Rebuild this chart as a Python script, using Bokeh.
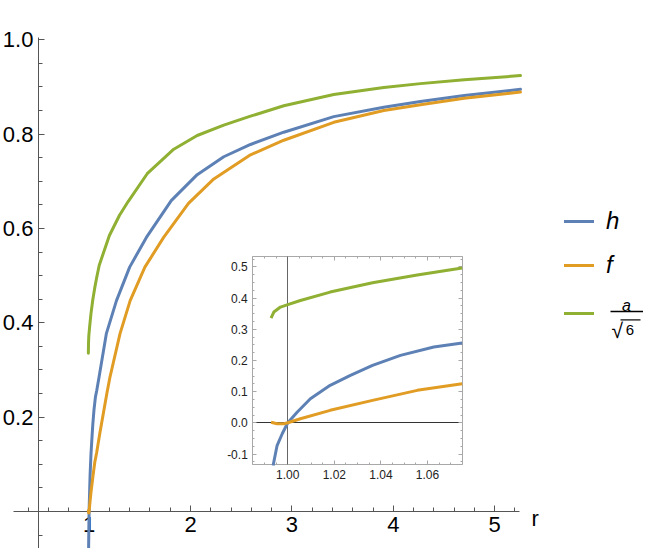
import numpy as np
from bokeh.plotting import figure
from bokeh.models import (Range1d, LinearAxis, FixedTicker, NumeralTickFormatter,
                          Legend, LegendItem, Label, BoxAnnotation)
from bokeh.core.properties import value
from bokeh.embed import file_html
from bokeh.resources import INLINE

# ---------------- data ----------------
h_r = [0.9937, 0.9954, 0.9976, 1.0, 1.004, 1.0097, 1.0182, 1.0269, 1.0364, 1.0484,
       1.0627, 1.0749, 1.10, 1.17, 1.27, 1.40, 1.565, 1.81, 2.066, 2.328, 2.592,
       2.92, 3.413, 3.906, 4.268, 4.7, 5.254]
h_y = [-0.137, -0.073, -0.035, 0.0, 0.034, 0.077, 0.120, 0.152, 0.184, 0.216,
       0.243, 0.256, 0.287, 0.377, 0.447, 0.518, 0.581, 0.659, 0.714, 0.752, 0.778,
       0.804, 0.837, 0.857, 0.869, 0.882, 0.895]

f_r = [0.9928, 0.9954, 0.9983, 1.0, 1.0054, 1.0182, 1.0364, 1.0556, 1.0749, 1.105,
       1.175, 1.205, 1.305, 1.405, 1.55, 1.735, 1.98, 2.23, 2.592, 2.92, 3.413,
       3.906, 4.268, 4.7, 5.254]
f_y = [0.002, -0.003, -0.003, 0.0, 0.013, 0.040, 0.072, 0.104, 0.125, 0.165,
       0.250, 0.284, 0.377, 0.447, 0.518, 0.581, 0.653, 0.705, 0.756, 0.787, 0.825,
       0.850, 0.862, 0.876, 0.889]

a_r = [0.9928, 0.9940, 0.99685, 1.0, 1.0054, 1.0182, 1.0364, 1.0556, 1.0749, 1.10,
       1.20, 1.30, 1.385, 1.573, 1.835, 2.066, 2.328, 2.592, 2.92, 3.413, 3.906,
       4.268, 4.7, 5.254]
a_y = [0.3355, 0.355, 0.371, 0.379, 0.392, 0.419, 0.449, 0.474, 0.496, 0.522,
       0.585, 0.628, 0.657, 0.716, 0.768, 0.797, 0.819, 0.838, 0.860, 0.884, 0.899,
       0.907, 0.915, 0.924]

series_labels = ["h", "f"]
axis_name = "r"

main_x_ticks = [1, 2, 3, 4, 5]
main_x_minor = [0.4, 0.6, 0.8, 1.2, 1.4, 1.6, 1.8, 2.2, 2.4, 2.6, 2.8, 3.2, 3.4, 3.6,
                3.8, 4.2, 4.4, 4.6, 4.8, 5.2]
main_y_ticks = [0.2, 0.4, 0.6, 0.8, 1.0]
main_y_minor = [-0.05, 0.05, 0.1, 0.15, 0.25, 0.3, 0.35, 0.45, 0.5, 0.55, 0.65, 0.7,
                0.75, 0.85, 0.9, 0.95]

inset_x_ticks = [1.00, 1.02, 1.04, 1.06]
inset_x_minor = [round(0.985 + 0.005 * i, 3) for i in range(19)]
inset_y_ticks = [-0.1, 0.0, 0.1, 0.2, 0.3, 0.4, 0.5]
inset_y_minor = [round(-0.125 + 0.025 * i, 3) for i in range(27)]

# ---------------- geometry ----------------
W, H = 657, 548
XR = (0.12623, 6.60553)
YR = (-0.07843, 1.08320)
IXR = (0.87659, 1.15881)
IYR = (-0.40288, 1.35353)
IX0, IX1 = 0.98497, 1.0749
IY0, IY1 = -0.1337, 0.533
TXT_SHIFT = 4.5   # text baseline correction (px)

C_H = "#5E81B5"
C_F = "#E19C24"
C_A = "#8FB032"
FONT = "Liberation Sans"

p = figure(width=W, height=H, x_range=Range1d(*XR), y_range=Range1d(*YR),
           x_axis_location=None, y_axis_location=None, toolbar_location=None,
           output_backend="svg", min_border=0, outline_line_color=None)
p.extra_x_ranges = {"ix": Range1d(*IXR)}
p.extra_y_ranges = {"iy": Range1d(*IYR)}
p.grid.visible = False

# main curves
main_renderers = []
for rs, ys, c in [(h_r, h_y, C_H), (f_r, f_y, C_F), (a_r, a_y, C_A)]:
    main_renderers.append(p.line(rs, ys, line_color=c, line_width=3,
                                 line_join="round", line_cap="round"))

# inset curves (same readings restricted to the inset window)
def inset_part(rs, ys):
    rs = np.array(rs); ys = np.array(ys)
    m = rs <= IX1 + 1e-6
    return rs[m], ys[m]

for rs, ys, c in [(a_r, a_y, C_A), (h_r, h_y, C_H), (f_r, f_y, C_F)]:
    xi, yi = inset_part(rs, ys)
    p.line(xi, yi, line_color=c, line_width=3, line_join="round",
           x_range_name="ix", y_range_name="iy")


def style(ax, color, size, maj_in, min_in, label_color="#000000"):
    ax.axis_line_color = color
    ax.major_tick_line_color = color
    ax.minor_tick_line_color = color
    ax.major_tick_in = maj_in
    ax.major_tick_out = 0
    ax.minor_tick_in = min_in
    ax.minor_tick_out = 0
    ax.major_label_text_font = FONT
    ax.major_label_text_font_size = size
    ax.major_label_text_color = label_color
    ax.level = "underlay"

# main axes
xa = LinearAxis(ticker=FixedTicker(ticks=main_x_ticks, minor_ticks=main_x_minor),
                formatter=NumeralTickFormatter(format="0"), fixed_location=0,
                bounds=(0.25, 5.245))
style(xa, "#555555", "22px", 6, 4)
xa.major_label_standoff = 5
p.add_layout(xa, "below")

ya = LinearAxis(ticker=FixedTicker(ticks=main_y_ticks, minor_ticks=main_y_minor),
                formatter=NumeralTickFormatter(format="0.0"), fixed_location=0.5,
                bounds=(-0.0785, 1.004))
style(ya, "#555555", "22px", 6, 4)
ya.major_label_standoff = 5
p.add_layout(ya, "left")

# inset frame axes
FR = "#A8A8A8"
ib = LinearAxis(ticker=FixedTicker(ticks=inset_x_ticks, minor_ticks=inset_x_minor),
                formatter=NumeralTickFormatter(format="0.00"), fixed_location=IY0,
                bounds=(IX0, IX1), x_range_name="ix", y_range_name="iy")
style(ib, FR, "12px", 4, 2, "#222222")
ib.major_label_standoff = 5
p.add_layout(ib, "below")

it = LinearAxis(ticker=FixedTicker(ticks=inset_x_ticks, minor_ticks=inset_x_minor),
                fixed_location=IY1, bounds=(IX0, IX1), x_range_name="ix", y_range_name="iy")
style(it, FR, "12px", 4, 2)
it.major_label_text_color = None
p.add_layout(it, "above")

il = LinearAxis(ticker=FixedTicker(ticks=inset_y_ticks, minor_ticks=inset_y_minor),
                formatter=NumeralTickFormatter(format="0.0"), fixed_location=IX0,
                bounds=(IY0, IY1), x_range_name="ix", y_range_name="iy")
style(il, FR, "12px", 4, 2, "#222222")
il.major_label_standoff = 5
p.add_layout(il, "left")

ir = LinearAxis(ticker=FixedTicker(ticks=inset_y_ticks, minor_ticks=inset_y_minor),
                fixed_location=IX1, bounds=(IY0, IY1), x_range_name="ix", y_range_name="iy")
style(ir, FR, "12px", 4, 2)
ir.major_label_text_color = None
p.add_layout(ir, "right")

# inset origin axes
iv = LinearAxis(ticker=FixedTicker(ticks=[]), fixed_location=1.0, bounds=(IY0, IY1),
                x_range_name="ix", y_range_name="iy")
style(iv, "#666666", "12px", 0, 0)
iv.major_label_text_color = None
p.add_layout(iv, "left")

ih = LinearAxis(ticker=FixedTicker(ticks=[]), fixed_location=0.0, bounds=(IX0, IX1),
                x_range_name="ix", y_range_name="iy")
style(ih, "#333333", "12px", 0, 0)
ih.major_label_text_color = None
p.add_layout(ih, "below")

def text_at(x, baseline_y, txt, size, italic=False, align="left"):
    return Label(x=x, y=H - (baseline_y - TXT_SHIFT), x_units="screen", y_units="screen",
                 text=txt, text_font=FONT, text_font_size=size,
                 text_font_style="italic" if italic else "normal",
                 text_align=align, text_baseline="alphabetic", text_color="#000000")

# axis name
p.add_layout(text_at(531, 522, axis_name, "22px"))

# legend: one single-item legend per entry
GH = 30
for label, rend, cy in [(series_labels[0], main_renderers[0], 221.0),
                        (series_labels[1], main_renderers[1], 265.3),
                        ("", main_renderers[2], 313.0)]:
    lg = Legend(items=[LegendItem(label=value(label), renderers=[rend])],
                location=(564, H - (cy + GH / 2)), border_line_color=None,
                background_fill_alpha=0, padding=0, margin=0, spacing=0,
                label_height=GH, glyph_height=GH, glyph_width=30, label_standoff=12,
                label_text_font=FONT, label_text_font_style="italic",
                label_text_font_size="24px", label_text_baseline="middle",
                label_text_color="#000000")
    p.add_layout(lg)

# fraction a / sqrt(6)
p.add_layout(text_at(626, 309.5, "a", "16px", italic=True, align="center"))
p.add_layout(BoxAnnotation(left=610, right=642.5, bottom=H - 311.7, top=H - 310.3,
                           left_units="screen", right_units="screen",
                           bottom_units="screen", top_units="screen",
                           fill_color="#000000", fill_alpha=1, line_color=None))
p.add_layout(text_at(611, 334.5, "√", "21px"))
p.add_layout(BoxAnnotation(left=620, right=640, bottom=H - 320.0, top=H - 318.8,
                           left_units="screen", right_units="screen",
                           bottom_units="screen", top_units="screen",
                           fill_color="#000000", fill_alpha=1, line_color=None))
p.add_layout(text_at(629.5, 334.3, "6", "15px", align="center"))

open("out.html", "w").write(file_html(p, INLINE))
